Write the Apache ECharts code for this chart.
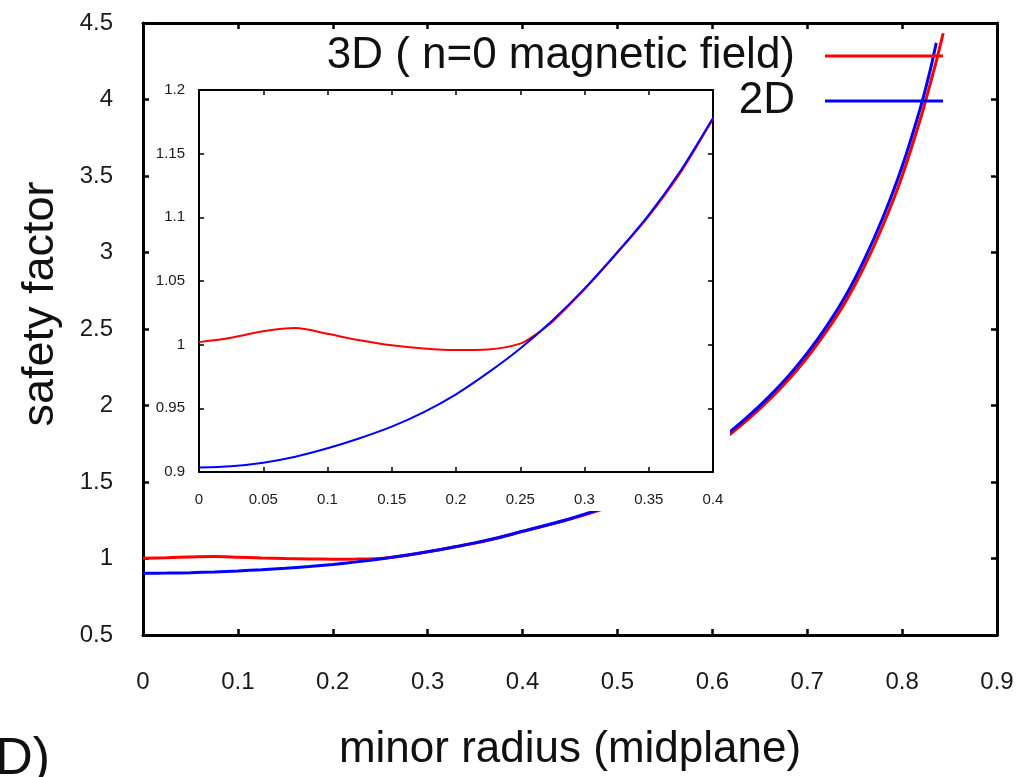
<!DOCTYPE html>
<html>
<head>
<meta charset="utf-8">
<script src="https://cdn.jsdelivr.net/npm/echarts@6/dist/echarts.min.js"></script>
<style>
html,body{margin:0;padding:0;background:#fff;}
#chart{width:1029px;height:777px;}
</style>
</head>
<body>
<div id="chart"></div>
<script>
// ---- data ----
const radius2D = [0, 0.025, 0.05, 0.075, 0.1, 0.125, 0.15, 0.175, 0.2, 0.225, 0.25, 0.275, 0.3, 0.325, 0.35, 0.375, 0.4, 0.45, 0.5, 0.55, 0.6, 0.62, 0.64, 0.66, 0.68, 0.70, 0.72, 0.74, 0.76, 0.78, 0.80, 0.82, 0.83, 0.836];
const q2D = [0.9035, 0.9045, 0.9073, 0.912, 0.9186, 0.9265, 0.9356, 0.947, 0.961, 0.978, 0.997, 1.019, 1.044, 1.072, 1.102, 1.137, 1.178, 1.26, 1.365, 1.52, 1.74, 1.836, 1.942, 2.06, 2.192, 2.342, 2.514, 2.712, 2.952, 3.232, 3.562, 3.962, 4.202, 4.37];

const radius3D = [0, 0.025, 0.05, 0.075, 0.1, 0.125, 0.15, 0.175, 0.2, 0.225, 0.25, 0.2628, 0.275, 0.3, 0.325, 0.35, 0.375, 0.4, 0.45, 0.5, 0.55, 0.6, 0.62, 0.64, 0.66, 0.68, 0.70, 0.72, 0.74, 0.76, 0.78, 0.80, 0.82, 0.83, 0.836, 0.8433];
const q3D = [1.002, 1.0055, 1.0105, 1.013, 1.0085, 1.0035, 0.9995, 0.997, 0.9958, 0.9963, 1.0008, 1.0085, 1.018, 1.0435, 1.0715, 1.101, 1.1355, 1.177, 1.257, 1.359, 1.51, 1.724, 1.818, 1.922, 2.038, 2.167, 2.314, 2.482, 2.674, 2.907, 3.18, 3.499, 3.887, 4.11, 4.25, 4.433];

const xTickLabels = ['0', '0.1', '0.2', '0.3', '0.4', '0.5', '0.6', '0.7', '0.8', '0.9'];
const yTickLabels = ['0.5', '1', '1.5', '2', '2.5', '3', '3.5', '4', '4.5'];
const insetXTickLabels = ['0', '0.05', '0.1', '0.15', '0.2', '0.25', '0.3', '0.35', '0.4'];
const insetYTickLabels = ['0.9', '0.95', '1', '1.05', '1.1', '1.15', '1.2'];

const name3D = '3D ( n=0 magnetic field)';
const name2D = '2D';
const xName = 'minor radius (midplane)';
const yName = 'safety factor';
const panelLabel = '(D)';

// ---- build ----
const FONT = '"Liberation Sans", Arial, Helvetica, sans-serif';
const zip = (xs, ys) => xs.map((x, i) => [x, ys[i]]);
const pick = (arr, min, step) => v => arr[Math.round((v - min) / step)] ?? '';

function valAxis(o) {
  const base = {
    type: 'value',
    gridIndex: o.grid,
    position: o.position,
    min: o.min, max: o.max, interval: o.interval,
    z: o.z || 0,
    axisLine: { show: true, onZero: false, lineStyle: { color: '#000', width: o.lw } },
    axisTick: { show: true, inside: true, length: o.tick, lineStyle: { color: '#000', width: o.tw } },
    splitLine: { show: false },
    axisLabel: o.labels ? {
      show: true, fontSize: o.fs, color: '#1a1a1a', fontFamily: FONT, margin: o.margin,
      formatter: pick(o.labels, o.min, o.interval)
    } : { show: false }
  };
  return Object.assign(base, o.extra || {});
}

const chart = echarts.init(document.getElementById('chart'), null, { renderer: 'canvas' });

const option = {
  backgroundColor: '#fff',
  animation: false,
  textStyle: { fontFamily: FONT },
  grid: [
    { left: 143, top: 23, width: 854, height: 616 },
    { left: 199, top: 90, width: 514, height: 382 }
  ],
  xAxis: [
    valAxis({ grid: 0, position: 'bottom', min: 0, max: 0.9, interval: 0.1, lw: 3, tick: 6, tw: 2.5, labels: xTickLabels, fs: 24, margin: 35,
      extra: { name: xName, nameLocation: 'middle', nameGap: 93, nameTextStyle: { fontSize: 44, color: '#111', fontFamily: FONT } } }),
    valAxis({ grid: 0, position: 'top', min: 0, max: 0.9, interval: 0.1, lw: 3, tick: 6, tw: 2.5 }),
    valAxis({ grid: 1, position: 'bottom', min: 0, max: 0.4, interval: 0.05, lw: 2, tick: 5, tw: 1.5, labels: insetXTickLabels, fs: 15, margin: 20, z: 10 }),
    valAxis({ grid: 1, position: 'top', min: 0, max: 0.4, interval: 0.05, lw: 2, tick: 5, tw: 1.5, z: 10 })
  ],
  yAxis: [
    valAxis({ grid: 0, position: 'left', min: 0.5, max: 4.5, interval: 0.5, lw: 3, tick: 6, tw: 2.5, labels: yTickLabels, fs: 24, margin: 30 }),
    valAxis({ grid: 0, position: 'right', min: 0.5, max: 4.5, interval: 0.5, lw: 3, tick: 6, tw: 2.5 }),
    valAxis({ grid: 1, position: 'left', min: 0.9, max: 1.2, interval: 0.05, lw: 2, tick: 5, tw: 1.5, labels: insetYTickLabels, fs: 15, margin: 14, z: 10 }),
    valAxis({ grid: 1, position: 'right', min: 0.9, max: 1.2, interval: 0.05, lw: 2, tick: 5, tw: 1.5, z: 10 })
  ],
  legend: [
    { data: [name3D], right: 86, top: 34, align: 'right', icon: 'rect', itemWidth: 118, itemHeight: 3, padding: 0,
      selectedMode: false, z: 20, itemStyle: { color: '#ff0000' },
      textStyle: { fontSize: 44, color: '#111', fontFamily: FONT, padding: [0, 25, 0, 0] } },
    { data: [name2D], right: 86, top: 79, align: 'right', icon: 'rect', itemWidth: 118, itemHeight: 3, padding: 0,
      selectedMode: false, z: 20, itemStyle: { color: '#0000ff' },
      textStyle: { fontSize: 44, color: '#111', fontFamily: FONT, padding: [0, 25, 0, 0] } }
  ],
  graphic: [
    { type: 'rect', z: 5, shape: { x: 150, y: 80, width: 580, height: 431 }, style: { fill: '#fff' }, silent: true },
    { type: 'text', x: 41, y: 304, rotation: Math.PI / 2, z: 20,
      style: { text: yName, fontSize: 45, fontFamily: FONT, fill: '#111', align: 'center', verticalAlign: 'middle' } },
    { type: 'text', x: 50, y: 760, z: 20,
      style: { text: panelLabel, fontSize: 52, fontFamily: FONT, fill: '#111', align: 'right', verticalAlign: 'middle' } }
  ],
  series: [
    { name: name3D, type: 'line', xAxisIndex: 0, yAxisIndex: 0, data: zip(radius3D, q3D), showSymbol: false, symbol: 'none',
      smooth: 0.3, lineStyle: { color: '#ff0000', width: 3 }, itemStyle: { color: '#ff0000' }, z: 2 },
    { name: name2D, type: 'line', xAxisIndex: 0, yAxisIndex: 0, data: zip(radius2D, q2D), showSymbol: false, symbol: 'none',
      smooth: 0.3, lineStyle: { color: '#0000ff', width: 3 }, itemStyle: { color: '#0000ff' }, z: 3 },
    { name: name3D, type: 'line', xAxisIndex: 2, yAxisIndex: 2, data: zip(radius3D, q3D), showSymbol: false, symbol: 'none',
      smooth: 0.3, lineStyle: { color: '#ff0000', width: 2 }, itemStyle: { color: '#ff0000' }, z: 11 },
    { name: name2D, type: 'line', xAxisIndex: 2, yAxisIndex: 2, data: zip(radius2D, q2D), showSymbol: false, symbol: 'none',
      smooth: 0.3, lineStyle: { color: '#0000ff', width: 2 }, itemStyle: { color: '#0000ff' }, z: 12 }
  ]
};
chart.setOption(option);
</script>
</body>
</html>
